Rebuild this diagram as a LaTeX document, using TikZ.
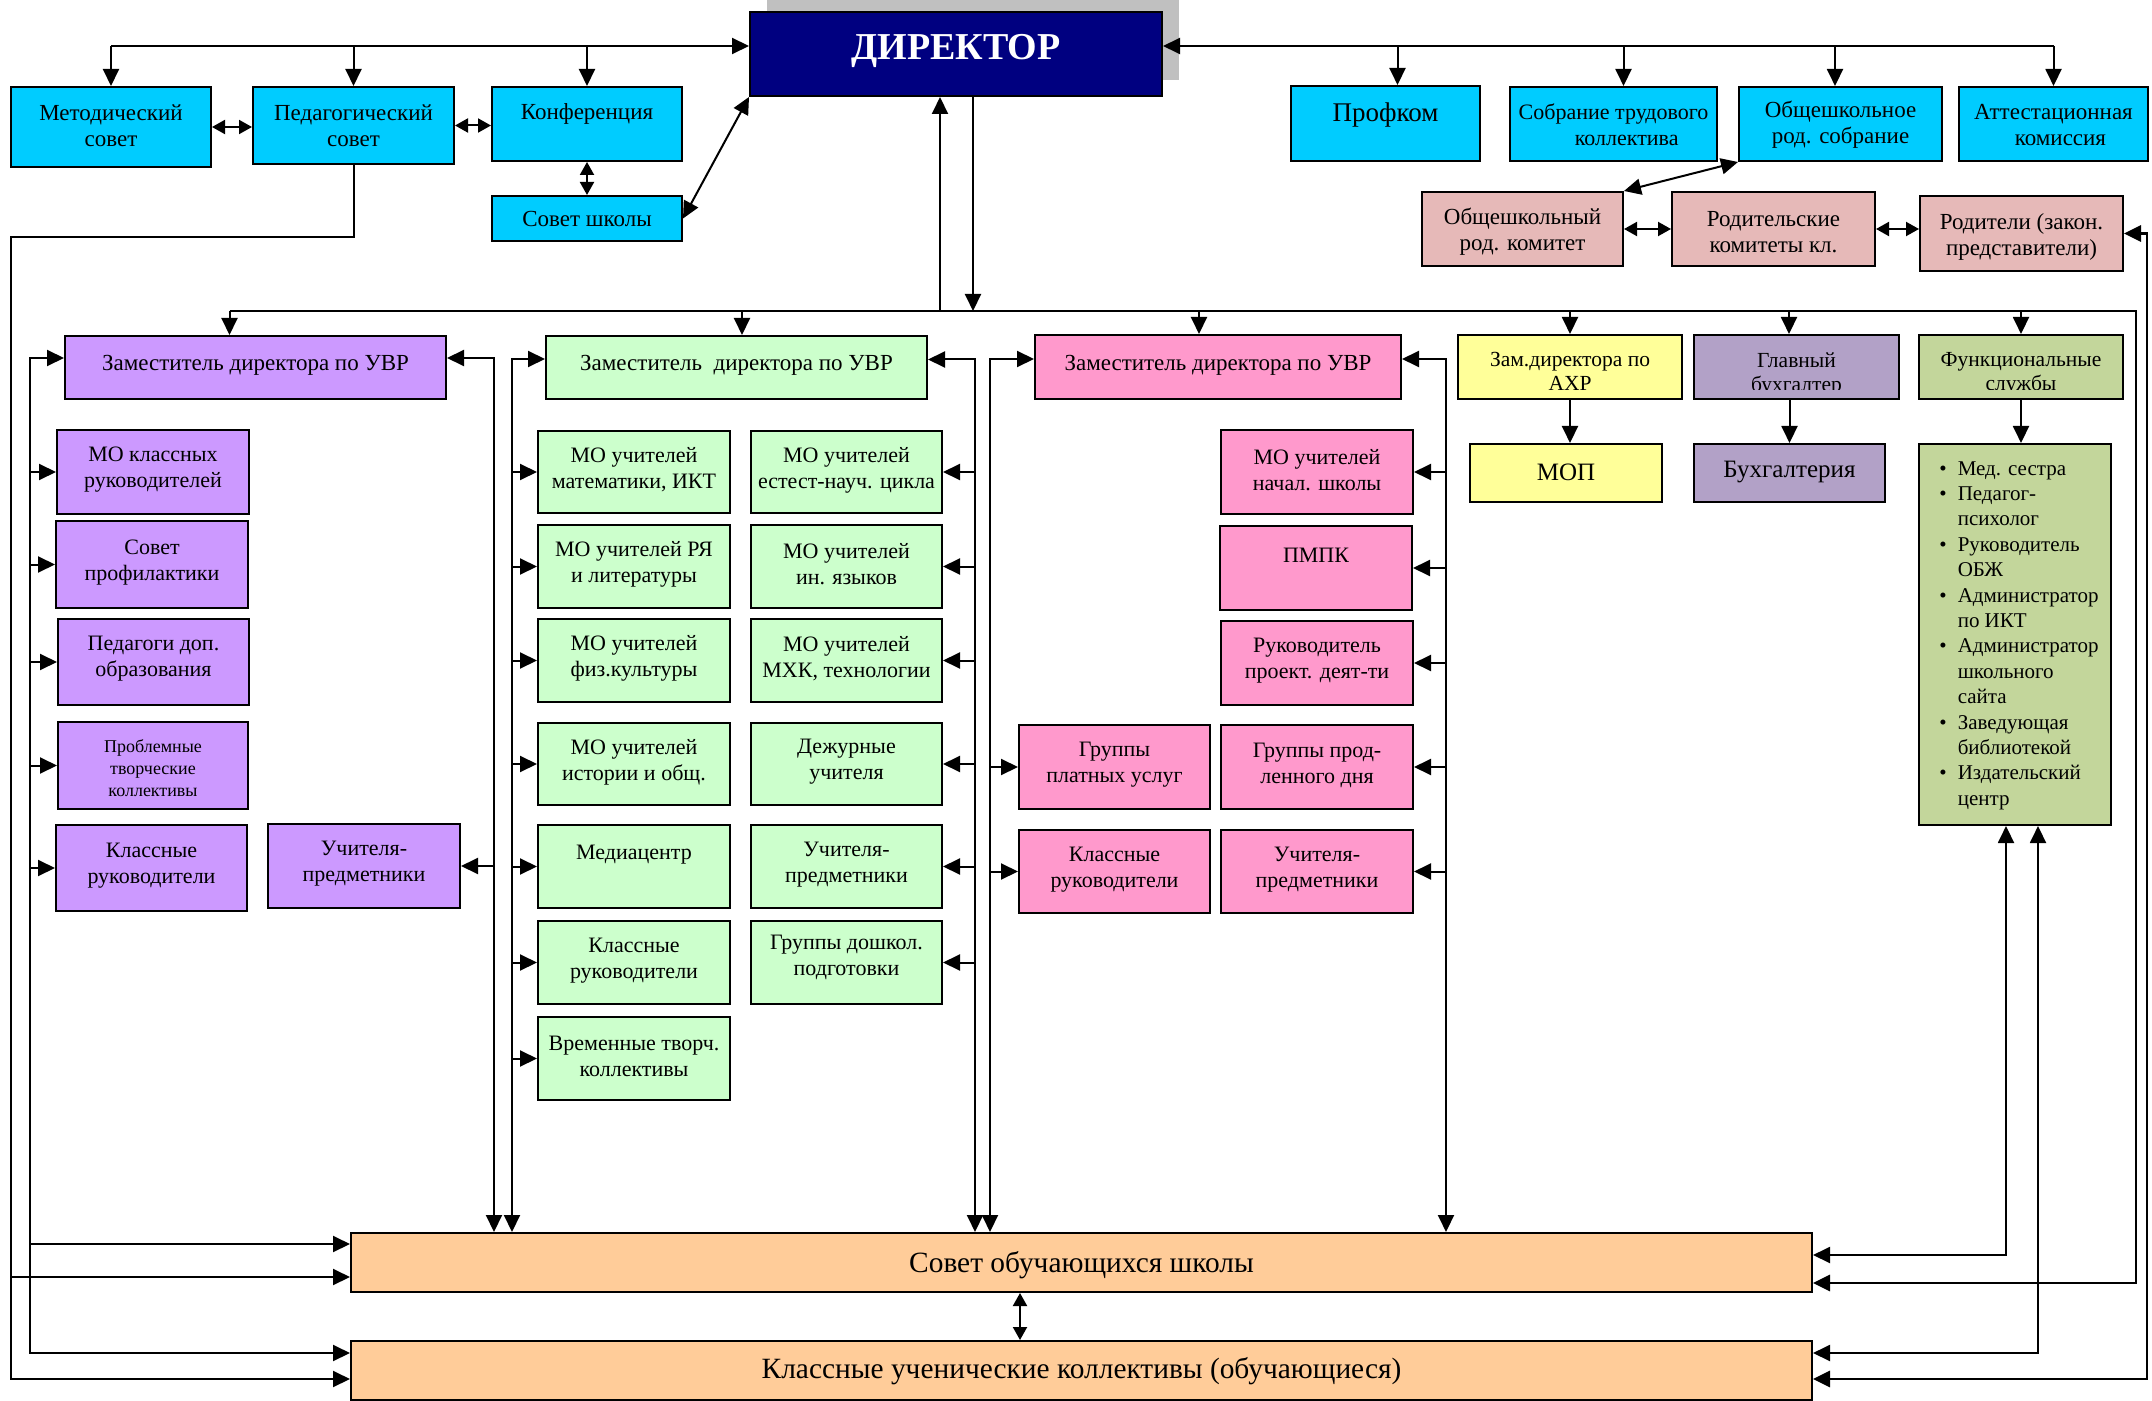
\documentclass[tikz,border=0pt]{standalone}
\usepackage{fontspec}
\setmainfont{Liberation Serif}
\usetikzlibrary{arrows.meta,fit}
\definecolor{cyanb}{RGB}{0,204,255}
\definecolor{navyc}{RGB}{0,0,128}
\definecolor{shadowc}{RGB}{192,192,192}
\definecolor{purpc}{RGB}{204,153,255}
\definecolor{greenc}{RGB}{204,255,204}
\definecolor{pinkc}{RGB}{255,153,204}
\definecolor{yellowc}{RGB}{255,255,153}
\definecolor{bukhc}{RGB}{178,161,199}
\definecolor{funcc}{RGB}{195,214,155}
\definecolor{parentc}{RGB}{230,185,184}
\definecolor{orangec}{RGB}{255,204,153}
\tikzset{
  box/.style={draw=black, line width=1pt, inner sep=0pt},
  txt/.style={align=center, inner sep=0pt},
  fA/.style={font=\fontsize{11.5}{13}\selectfont},
  fB/.style={font=\fontsize{11}{13}\selectfont},
  fS/.style={font=\fontsize{10.75}{12}\selectfont},
  fT/.style={font=\fontsize{9}{11}\selectfont},
  fL/.style={font=\fontsize{12.5}{15}\selectfont},
  fP/.style={font=\fontsize{13.5}{15}\selectfont},
  fX/.style={font=\fontsize{14.7}{17}\selectfont},
  fD/.style={font=\fontsize{19}{22}\selectfont\bfseries, text=white},
  ln/.style={line width=1pt},
  arr/.style={ln, -{Triangle[length=8.5pt,width=8pt]}},
  darr/.style={ln, {Triangle[length=8.5pt,width=8pt]}-{Triangle[length=8.5pt,width=8pt]}},
  sdarr/.style={ln, {Triangle[length=6.5pt,width=7pt]}-{Triangle[length=6.5pt,width=7pt]}},
}
\newcommand\bx[9][0]{%
  \node[box, fill=#7, fit={(#3,#4)(#5,#6)}] (#2) {};
  \node[txt, #8] (#2-t) at ([yshift={-(#1+3)*0.5pt}]#2.center) {#9};}
\begin{document}
\begin{tikzpicture}[x=0.5pt, y=-0.5pt]
\useasboundingbox (0,0) rectangle (2152,1401);
\fill[white] (0,0) rectangle (2152,1401);
% ---------- top row
\node[fill=shadowc, inner sep=0pt, fit={(767,0)(1179,80)}] (dirsh) {};
\bx[-6]{dir}{750}{12}{1162}{96}{navyc}{fD}{ДИРЕКТОР}
\bx[-4]{met}{11}{87}{211}{167}{cyanb}{fA}{Методический\\совет}
\bx[-3]{ped}{253}{87}{454}{164}{cyanb}{fA}{Педагогический\\совет}
\bx[-13]{konf}{492}{87}{682}{161}{cyanb}{fA}{Конференция}
\bx[-2]{sovsh}{492}{196}{682}{241}{cyanb}{fA}{Совет школы}
\bx[-11]{prof}{1291}{86}{1480}{161}{cyanb}{fP}{Профком}
\bx[-2]{sobr}{1510}{87}{1717}{161}{cyanb}{fB}{Собрание трудового\\\hspace*{1.2em}коллектива}
\bx[-2]{obsob}{1739}{87}{1942}{161}{cyanb}{fA}{Общешкольное\\род. собрание}
\bx[-2]{att}{1959}{87}{2148}{161}{cyanb}{fA}{Аттестационная\\\hspace*{0.6em}комиссия}
\bx{obkom}{1422}{192}{1623}{266}{parentc}{fA}{Общешкольный\\род. комитет}
\bx{rodkom}{1672}{192}{1875}{266}{parentc}{fA}{Родительские\\комитеты кл.}
\bx{rodit}{1920}{196}{2123}{271}{parentc}{fA}{Родители (закон.\\представители)}
% ---------- deputies
\bx[-5]{zp}{65}{336}{446}{399}{purpc}{fA}{Заместитель директора по УВР}
\bx[-5]{zg}{546}{336}{927}{399}{greenc}{fA}{Заместитель~ директора по УВР}
\bx[1]{zy}{1458}{335}{1682}{399}{yellowc}{fS}{Зам.директора по\\АХР}
\bx[-5]{zk}{1035}{335}{1401}{399}{pinkc}{fA}{Заместитель директора по УВР}
\node[box, fill=bukhc, fit={(1694,335)(1899,399)}] (bg) {};
\node[box, fill=funcc, fit={(1919,335)(2123,399)}] (fs) {};
\begin{scope}
\clip (bg.north west) rectangle ([yshift=5pt]bg.south east);
\node[txt, fS] (bg-t) at ([yshift=-3.5pt]bg.center) {Главный\\бухгалтер};
\end{scope}
\begin{scope}
\clip (fs.north west) rectangle ([yshift=5pt]fs.south east);
\node[txt, fS] (fs-t) at ([yshift=-3.5pt]fs.center) {Функциональные\\службы};
\end{scope}
\bx[-4]{mop}{1470}{444}{1662}{502}{yellowc}{fL}{МОП}
\bx[-4]{bkh}{1694}{444}{1885}{502}{bukhc}{fL}{Бухгалтерия}
\node[box, fill=funcc, fit={(1919,444)(2111,825)}] (fl) {};
\node[anchor=north west, inner sep=0pt, font=\fontsize{10.5}{12.7}\selectfont] (fl-t)
  at ([xshift=10.5pt,yshift=-7pt]fl.north west)
  {\begin{tabular}{@{}l@{\hspace{5.5pt}}l@{}}
   \textbullet & Мед. сестра\\
   \textbullet & Педагог-\\ & психолог\\
   \textbullet & Руководитель\\ & ОБЖ\\
   \textbullet & Администратор\\ & по ИКТ\\
   \textbullet & Администратор\\ & школьного\\ & сайта\\
   \textbullet & Заведующая\\ & библиотекой\\
   \textbullet & Издательский\\ & центр
   \end{tabular}};
% ---------- purple column
\bx[-5]{mk}{57}{430}{249}{514}{purpc}{fB}{МО классных\\руководителей}
\bx[-5]{sp}{56}{521}{248}{608}{purpc}{fB}{Совет\\профилактики}
\bx[-6]{pd}{58}{619}{249}{705}{purpc}{fB}{Педагоги доп.\\образования}
\bx{pt}{58}{722}{248}{809}{purpc}{fT}{Проблемные\\творческие\\коллективы}
\bx[-5]{kr}{56}{825}{247}{911}{purpc}{fB}{Классные\\руководители}
\bx[-5]{up}{268}{824}{460}{908}{purpc}{fB}{Учителя-\\предметники}
% ---------- green columns
\bx[-5]{g1}{538}{431}{730}{513}{greenc}{fB}{МО учителей\\математики, ИКТ}
\bx[-5]{g2}{538}{525}{730}{608}{greenc}{fB}{МО учителей РЯ\\и литературы}
\bx[-5]{g3}{538}{619}{730}{702}{greenc}{fB}{МО учителей\\физ.культуры}
\bx[-5]{g4}{538}{723}{730}{805}{greenc}{fB}{МО учителей\\истории и общ.}
\bx[-15]{g5}{538}{825}{730}{908}{greenc}{fB}{Медиацентр}
\bx[-5]{g6}{538}{921}{730}{1004}{greenc}{fB}{Классные\\руководители}
\bx[-5]{g7}{538}{1017}{730}{1100}{greenc}{fB}{Временные творч.\\коллективы}
\bx[-5]{h1}{751}{431}{942}{513}{greenc}{fB}{МО учителей\\естест-науч. цикла}
\bx[-5]{h2}{751}{525}{942}{608}{greenc}{fB}{МО учителей\\ин. языков}
\bx[-5]{h3}{751}{619}{942}{702}{greenc}{fB}{МО учителей\\МХК, технологии}
\bx[-5]{h4}{751}{723}{942}{805}{greenc}{fB}{Дежурные\\учителя}
\bx[-5]{h5}{751}{825}{942}{908}{greenc}{fB}{Учителя-\\предметники}
\bx[-8]{h6}{751}{921}{942}{1004}{greenc}{fB}{Группы дошкол.\\подготовки}
% ---------- pink columns
\bx[-5]{k1}{1221}{430}{1413}{514}{pinkc}{fB}{МО учителей\\начал. школы}
\bx[-16]{k2}{1220}{526}{1412}{610}{pinkc}{fB}{ПМПК}
\bx[-5]{k3}{1221}{621}{1413}{705}{pinkc}{fB}{Руководитель\\проект. деят-ти}
\bx[-5]{k4}{1221}{725}{1413}{809}{pinkc}{fB}{Группы прод-\\ленного дня}
\bx[-5]{k5}{1221}{830}{1413}{913}{pinkc}{fB}{Учителя-\\предметники}
\bx[-5]{k6}{1019}{725}{1210}{809}{pinkc}{fB}{Группы\\платных услуг}
\bx[-5]{k7}{1019}{830}{1210}{913}{pinkc}{fB}{Классные\\руководители}
% ---------- bottom
\bx{sovob}{351}{1233}{1812}{1292}{orangec}{fX}{Совет обучающихся школы}
\bx[-2]{klass}{351}{1341}{1812}{1400}{orangec}{fX}{Классные ученические коллективы (обучающиеся)}
% ---------- helper coordinates
\coordinate (busT) at (0,46);
\coordinate (busM) at (0,311);
\coordinate (xA) at (11,237);
\coordinate (xB) at (30,0);
\coordinate (xC) at (494,0);
\coordinate (xD) at (512,0);
\coordinate (xE) at (975,0);
\coordinate (xF) at (990,0);
\coordinate (xG) at (1446,0);
\coordinate (xH) at (2136,0);
\coordinate (xI) at (2147,0);
\coordinate (soA) at ([yshift=9.25pt]sovob.west);
\coordinate (soB) at ([yshift=-7.25pt]sovob.west);
\coordinate (soC) at ([yshift=3.75pt]sovob.east);
\coordinate (soD) at ([yshift=-10.25pt]sovob.east);
\coordinate (klA) at ([yshift=8.75pt]klass.west);
\coordinate (klB) at ([yshift=-4.25pt]klass.west);
\coordinate (klC) at ([yshift=8.75pt]klass.east);
\coordinate (klD) at ([yshift=-4.25pt]klass.east);
\coordinate (profT) at ([xshift=6pt]prof.north);
\coordinate (sobrT) at ([xshift=5pt]sobr.north);
\coordinate (obsobT) at ([xshift=-2.75pt]obsob.north);
\coordinate (zpN) at ([xshift=-13pt]zp.north);
\coordinate (zgN) at ([xshift=2.75pt]zg.north);
\coordinate (zkN) at ([xshift=-9.5pt]zk.north);
\coordinate (bgN) at ([xshift=-3.75pt]bg.north);
\coordinate (dirL) at ([xshift=-8pt]dir.south);
\coordinate (dirR) at ([xshift=8.5pt]dir.south);
\coordinate (zpW) at ([yshift=4.75pt]zp.west);
\coordinate (zpE) at ([yshift=4.75pt]zp.east);
\coordinate (zgW) at ([yshift=4.25pt]zg.west);
\coordinate (zgE) at ([yshift=4pt]zg.east);
\coordinate (zkW) at ([yshift=4pt]zk.west);
\coordinate (zkE) at ([yshift=4pt]zk.east);
\coordinate (flL) at ([xshift=-4.5pt]fl.south);
\coordinate (flR) at ([xshift=11.5pt]fl.south);
\coordinate (sovS) at ([xshift=-30.75pt]sovob.south);
% ---------- top buses
\draw[arr] (met.north |- busT) -- (dir.west |- busT);
\draw[arr] (met.north |- busT) -- (met.north);
\draw[arr] (ped.north |- busT) -- (ped.north);
\draw[arr] (konf.north |- busT) -- (konf.north);
\draw[arr] (att.north |- busT) -- (dir.east |- busT);
\draw[arr] (profT |- busT) -- (profT);
\draw[arr] (sobrT |- busT) -- (sobrT);
\draw[arr] (obsobT |- busT) -- (obsobT);
\draw[arr] (att.north |- busT) -- (att.north);
\draw[sdarr] (met.east) -- (ped.west |- met.east);
\draw[sdarr] (ped.east) -- (konf.west |- ped.east);
\draw[sdarr] (konf.south) -- (sovsh.north);
\draw[darr] (sovsh.east) -- (dir.south west);
\draw[darr] (obsob.south west) -- (obkom.north east);
\draw[sdarr] (obkom.east) -- (rodkom.west);
\draw[sdarr] (rodkom.east) -- (rodkom.east -| rodit.west);
% ---------- main bus
\draw[arr, line width=1.4pt] (zpN |- busM) -| (xH |- soD) -- (soD);
\draw[arr] (zpN |- busM) -- (zpN);
\draw[arr] (zgN |- busM) -- (zgN);
\draw[arr] (zkN |- busM) -- (zkN);
\draw[arr] (zy.north |- busM) -- (zy.north);
\draw[arr] (bgN |- busM) -- (bgN);
\draw[arr] (fs.north |- busM) -- (fs.north);
\draw[arr] (dirL |- busM) -- (dirL);
\draw[arr] (dirR) -- (dirR |- busM);
\draw[arr] (zy.south) -- (zy.south |- mop.north);
\draw[arr] (bkh.north |- bg.south) -- (bkh.north);
\draw[arr] (fs.south) -- (fs.south |- fl.north);
% ---------- left rails
\draw[arr] (ped.south) |- (xA) |- (klB);
\draw[arr] (xA |- soB) -- (soB);
\draw[darr] (zpW) -| (xB |- klA) -- (klA);
\draw[arr] (xB |- soA) -- (soA);
\foreach \n in {mk,sp,pd,pt,kr} \draw[arr] (xB |- \n.west) -- (\n.west);
\draw[darr] (zpE) -| (xC |- sovob.north);
\draw[arr] (xC |- up.east) -- (up.east);
\draw[darr] (zgW) -| (xD |- sovob.north);
\foreach \n in {g1,g2,g3,g4,g5,g6,g7} \draw[arr] (xD |- \n.west) -- (\n.west);
\draw[darr] (zgE) -| (xE |- sovob.north);
\foreach \n in {h1,h2,h3,h4,h5,h6} \draw[arr] (xE |- \n.east) -- (\n.east);
\draw[darr] (zkW) -| (xF |- sovob.north);
\foreach \n in {k6,k7} \draw[arr] (xF |- \n.west) -- (\n.west);
\draw[darr] (zkE) -| (xG |- sovob.north);
\foreach \n in {k1,k2,k3,k4,k5} \draw[arr] (xG |- \n.east) -- (\n.east);
% ---------- right rails
\draw[darr] (soC) -| (flL);
\draw[darr] (klC) -| (flR);
\draw[darr, line width=1.4pt] (klD) -| (xI |- rodit.east) -- (rodit.east);
\draw[sdarr] (sovS) -- (sovS |- klass.north);
\end{tikzpicture}
\end{document}
